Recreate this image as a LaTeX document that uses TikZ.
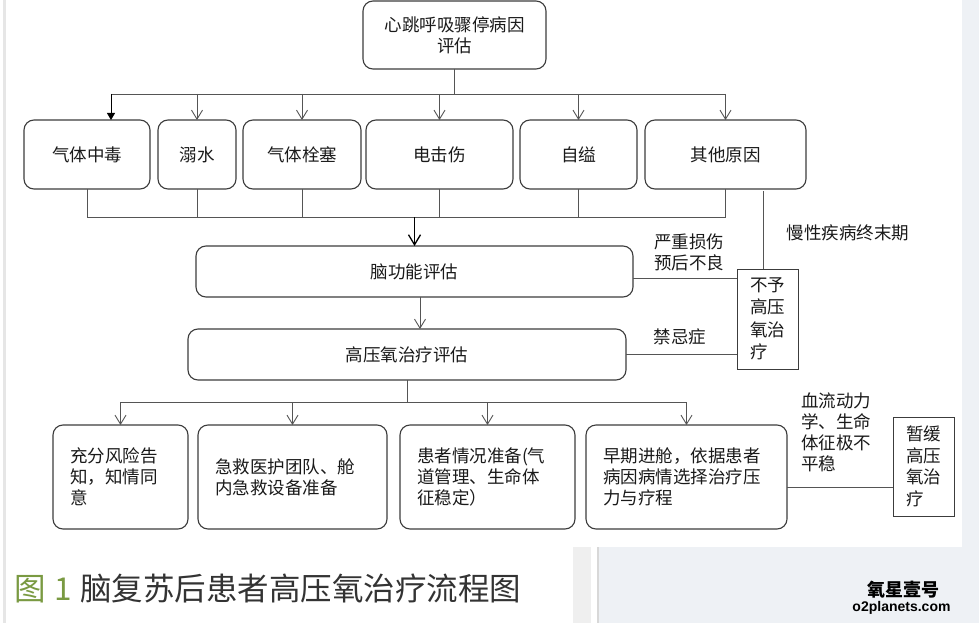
\documentclass[tikz,border=0pt]{standalone}
\usepackage{fontspec}
\setmainfont{Noto Sans CJK SC}
\newfontfamily\wmfont{Liberation Sans}
\usetikzlibrary{arrows.meta,calc}
\definecolor{boxc}{HTML}{3C3C3C}
\definecolor{linec}{HTML}{555555}
\definecolor{txtc}{HTML}{1A1A1A}
\definecolor{capgreen}{HTML}{7A9A42}
\definecolor{capgrey}{HTML}{333333}
\definecolor{sidebg}{HTML}{EEF1F5}
\definecolor{stripe}{HTML}{E6E6E6}
\definecolor{barlight}{HTML}{EFEFEF}
\definecolor{bardark}{HTML}{D8D8D8}
\begin{document}
\begin{tikzpicture}[x=1pt,y=-1pt,
  txt/.style={font=\fontsize{17.5}{21}\selectfont, text=txtc},
  rbox/.style={draw=boxc, line width=1.1pt, rounded corners=10pt, inner sep=0pt, outer sep=0pt, txt, align=center},
  lbox/.style={draw=boxc, line width=1.1pt, rounded corners=10pt, inner xsep=17pt, inner ysep=0pt, outer sep=0pt, txt, align=left},
  sbox/.style={draw=boxc, line width=0.9pt, inner sep=0pt, outer sep=0pt, font=\fontsize{17.5}{22.5}\selectfont, text=txtc, align=left},
  lbl/.style={txt, inner sep=0pt, align=left},
  ln/.style={draw=linec, line width=0.9pt},
  vee/.style={ln, -{Straight Barb[length=9pt,width=11pt,line width=0.9pt]}},
  tri/.style={draw=black, line width=0.9pt, -{Triangle[length=7pt,width=8pt]}},
  bigvee/.style={draw=black, line width=1.3pt, -{Straight Barb[length=10pt,width=12pt,line width=1.3pt]}}
]
% background
\fill[white] (0,0) rectangle (979,623);
\useasboundingbox (0,0) rectangle (979,623);
\fill[stripe] (3,0) rectangle (5.5,623);
\fill[sidebg] (962,0) rectangle (979,623);
\fill[sidebg] (599,547) rectangle (979,623);
\fill[barlight] (573,547) rectangle (591,623);
\fill[bardark] (597,547) rectangle (599,623);

% top
\node[rbox, minimum width=183pt, minimum height=68pt] (top) at (454.5,35) {心跳呼吸骤停病因\\评估};

% row 1
\node[rbox, minimum width=126pt, minimum height=69pt] (g1) at (87,154.5) {气体中毒};
\node[rbox, minimum width=78pt, minimum height=69pt] (g2) at (197,154.5) {溺水};
\node[rbox, minimum width=118pt, minimum height=69pt] (g3) at (302,154.5) {气体栓塞};
\node[rbox, minimum width=147pt, minimum height=69pt] (g4) at (439.5,154.5) {电击伤};
\node[rbox, minimum width=117pt, minimum height=69pt] (g5) at (578.5,154.5) {自缢};
\node[rbox, minimum width=161pt, minimum height=69pt] (g6) at (725.5,154.5) {其他原因};

% middle
\node[rbox, minimum width=437pt, minimum height=51pt] (brain) at (414.5,271.5) {脑功能评估};
\node[rbox, minimum width=438pt, minimum height=51pt] (hbo) at (407,354.5) {高压氧治疗评估};
\node[sbox, minimum width=61pt, minimum height=100pt] (no) at (767.5,319) {不予\\高压\\氧治\\疗};

% bottom
\node[lbox, text width=101pt, minimum height=104pt] (p1) at (120.5,477) {充分风险告\\知，知情同\\意};
\node[lbox, text width=155pt, minimum height=104pt] (p2) at (292.5,477) {急救医护团队、舱\\内急救设备准备};
\node[lbox, text width=141pt, minimum height=104pt] (p3) at (487.5,477) {患者情况准备(气\\道管理、生命体\\征稳定）};
\node[lbox, text width=167pt, minimum height=104pt] (p4) at (686.5,477) {早期进舱，依据患者\\病因病情选择治疗压\\力与疗程};
\node[sbox, font=\fontsize{17.5}{21.5}\selectfont, minimum width=61pt, minimum height=99pt] (delay) at (923.5,466.5) {暂缓\\高压\\氧治\\疗};

% labels
\node[lbl] (l1) at (689,252.5) {严重损伤\\预后不良};
\node[lbl] (l2) at (680,337) {禁忌症};
\node[lbl] (l3) at (848,233) {慢性疾病终末期};
\node[lbl, anchor=west] (l4) at (801,432.5) {血流动力\\学、生命\\体征极不\\平稳};

% connectors top -> row1
\coordinate (j0) at (454.5,94);
\coordinate (ja) at (111,94);
\draw[ln] (top.south) -- (j0);
\draw[ln] (ja) -- (g6.north |- ja);
\draw[tri] (ja) -- (ja |- g1.north);
\draw[vee] (g2.north |- ja) -- (g2.north);
\draw[vee] (g3.north |- ja) -- (g3.north);
\draw[vee] (g4.north |- ja) -- (g4.north);
\draw[vee] (g5.north |- ja) -- (g5.north);
\draw[vee] (g6.north |- ja) -- (g6.north);

% row1 -> brain
\coordinate (jb) at (87,217);
\draw[ln] (g1.south) -- (jb);
\draw[ln] (g2.south) -- (g2.south |- jb);
\draw[ln] (g3.south) -- (g3.south |- jb);
\draw[ln] (g4.south) -- (g4.south |- jb);
\draw[ln] (g5.south) -- (g5.south |- jb);
\draw[ln] (g6.south) -- (g6.south |- jb);
\draw[ln] (jb) -- (g6.south |- jb);
\draw[bigvee] (brain.north |- jb) -- (brain.north);

% other -> no
\coordinate (jc) at (763,191);
\draw[ln] (jc) -- (jc |- no.north);

% brain -> hbo
\coordinate (jd) at (420,297);
\draw[vee] (jd) -- (jd |- hbo.north);

% side lines
\coordinate (je) at (633,278);
\draw[ln] (je) -- (je -| no.west);
\draw[ln] (hbo.east) -- (hbo.east -| no.west);

% hbo -> bottom
\coordinate (jf) at (120.5,402);
\draw[ln] (hbo.south) -- (hbo.south |- jf);
\draw[ln] (jf) -- (p4.north |- jf);
\draw[vee] (jf) -- (p1.north);
\draw[vee] (p2.north |- jf) -- (p2.north);
\draw[vee] (p3.north |- jf) -- (p3.north);
\draw[vee] (p4.north |- jf) -- (p4.north);

% p4 -> delay
\coordinate (jg) at (787,487);
\draw[ln] (jg) -- (jg -| delay.west);

% caption
\node[anchor=west, inner sep=0pt, font=\fontsize{31.5}{36}\selectfont] (cap) at (14,589) {\textcolor{capgreen}{图\kern9pt 1}\kern8pt\textcolor{capgrey}{脑复苏后患者高压氧治疗流程图}};

% watermark
\node[inner sep=0pt, font=\fontsize{18}{20}\selectfont\bfseries, text=black] (wm1) at (903,590) {氧星壹号};
\node[inner sep=0pt, font=\wmfont\fontsize{14}{16}\selectfont\bfseries, text=black] (wm2) at (901.5,607.5) {o2planets.com};
\end{tikzpicture}
\end{document}
